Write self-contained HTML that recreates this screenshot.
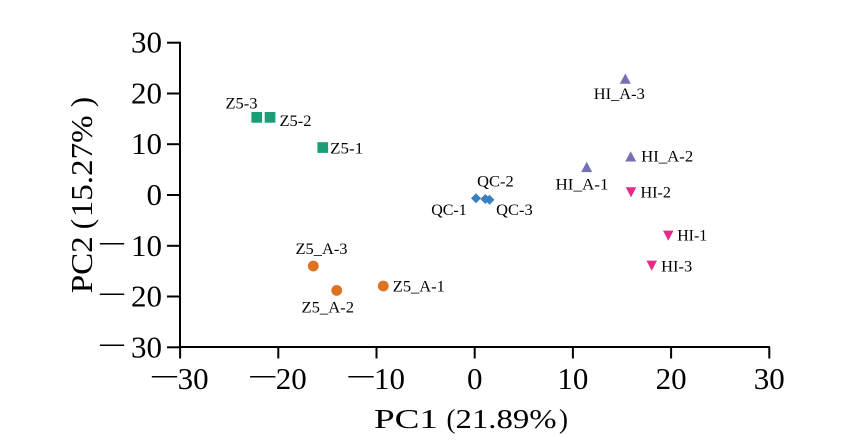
<!DOCTYPE html>
<html>
<head>
<meta charset="utf-8">
<style>
  html, body { margin: 0; padding: 0; background: #ffffff; }
  svg { display: block; }
  text { font-family: "Liberation Serif", "Noto Serif CJK SC", serif; fill: #000; }
</style>
</head>
<body>
<svg width="847" height="448" viewBox="0 0 847 448" xmlns="http://www.w3.org/2000/svg">
  <rect x="0" y="0" width="847" height="448" fill="#ffffff"/>

  <!-- Axes -->
  <g stroke="#000" stroke-width="2" fill="none">
    <line x1="180" y1="41.7" x2="180" y2="348"/>
    <line x1="179" y1="347" x2="770" y2="347"/>
    <!-- y ticks -->
    <line x1="167" y1="42.7" x2="180" y2="42.7"/>
    <line x1="167" y1="93.5" x2="180" y2="93.5"/>
    <line x1="167" y1="144.2" x2="180" y2="144.2"/>
    <line x1="167" y1="195" x2="180" y2="195"/>
    <line x1="167" y1="245.8" x2="180" y2="245.8"/>
    <line x1="167" y1="296.5" x2="180" y2="296.5"/>
    <line x1="167" y1="347.3" x2="180" y2="347.3"/>
    <!-- x ticks -->
    <line x1="180.1" y1="347" x2="180.1" y2="358.5"/>
    <line x1="278.3" y1="347" x2="278.3" y2="358.5"/>
    <line x1="376.5" y1="347" x2="376.5" y2="358.5"/>
    <line x1="474.7" y1="347" x2="474.7" y2="358.5"/>
    <line x1="572.9" y1="347" x2="572.9" y2="358.5"/>
    <line x1="671.1" y1="347" x2="671.1" y2="358.5"/>
    <line x1="769.3" y1="347" x2="769.3" y2="358.5"/>
  </g>

  <!-- Y tick labels -->
  <g font-size="31">
    <text x="162" y="52.7" text-anchor="end">30</text>
    <text x="162" y="103.5" text-anchor="end">20</text>
    <text x="162" y="154.2" text-anchor="end">10</text>
    <text x="162" y="205" text-anchor="end">0</text>
    <text x="162" y="255.8" text-anchor="end">10</text>
    <text x="100" y="250.8" textLength="24" lengthAdjust="spacingAndGlyphs">—</text>
    <text x="162" y="306.5" text-anchor="end">20</text>
    <text x="100" y="301.5" textLength="24" lengthAdjust="spacingAndGlyphs">—</text>
    <text x="162" y="357.3" text-anchor="end">30</text>
    <text x="100" y="352.3" textLength="24" lengthAdjust="spacingAndGlyphs">—</text>
  </g>

  <!-- X tick labels -->
  <g font-size="31">
    <text x="152" y="384" textLength="25" lengthAdjust="spacingAndGlyphs">—</text>
    <text x="177.6" y="389">30</text>
    <text x="250.3" y="384" textLength="25" lengthAdjust="spacingAndGlyphs">—</text>
    <text x="275.8" y="389">20</text>
    <text x="348.5" y="384" textLength="25" lengthAdjust="spacingAndGlyphs">—</text>
    <text x="374" y="389">10</text>
    <text x="474.7" y="389" text-anchor="middle">0</text>
    <text x="572.9" y="389" text-anchor="middle">10</text>
    <text x="671.1" y="389" text-anchor="middle">20</text>
    <text x="769.3" y="389" text-anchor="middle">30</text>
  </g>

  <!-- X axis title -->
  <g font-size="27">
    <text x="374" y="428" textLength="64" lengthAdjust="spacingAndGlyphs">PC1</text>
    <text x="446.5" y="428">(</text>
    <text x="455.5" y="428" textLength="101" lengthAdjust="spacingAndGlyphs">21.89%</text>
    <text x="559" y="428">)</text>
  </g>

  <!-- Y axis title (rotated) -->
  <g font-size="31" transform="translate(92,293.3) rotate(-90)">
    <text x="0" y="0" textLength="57" lengthAdjust="spacingAndGlyphs">PC2</text>
    <text x="64" y="0">(</text>
    <text x="76" y="0" textLength="102" lengthAdjust="spacingAndGlyphs">15.27%</text>
    <text x="186" y="0">)</text>
  </g>

  <!-- Markers: Z5 squares (green) -->
  <g fill="#1b9e77">
    <rect x="251.4" y="112" width="10.7" height="10.7"/>
    <rect x="264.7" y="112" width="10.7" height="10.7"/>
    <rect x="317.4" y="142.2" width="10.7" height="10.7"/>
  </g>

  <!-- Z5_A circles (orange) -->
  <g fill="#d95f02" fill-opacity="0.88">
    <circle cx="313.3" cy="266" r="5.4"/>
    <circle cx="336.7" cy="290.4" r="5.4"/>
    <circle cx="383.3" cy="286" r="5.4"/>
  </g>

  <!-- QC diamonds (blue) -->
  <g fill="#3a80be">
    <polygon points="476,193.3 481,198.3 476,203.3 471,198.3"/>
    <polygon points="485.3,194 490.3,199 485.3,204 480.3,199"/>
    <polygon points="489.5,194.7 494.5,199.7 489.5,204.7 484.5,199.7"/>
  </g>

  <!-- HI_A triangles (purple) -->
  <g fill="#7570b3">
    <polygon points="625.3,73.5 630.8,83.8 619.8,83.8"/>
    <polygon points="630.7,151.2 636.2,161.5 625.2,161.5"/>
    <polygon points="586.7,161.8 592.2,172.1 581.2,172.1"/>
  </g>

  <!-- HI inverted triangles (magenta) -->
  <g fill="#e7298a">
    <polygon points="625.8,187.2 636.3,187.2 631,197.4"/>
    <polygon points="663,230.6 673.5,230.6 668.3,240.8"/>
    <polygon points="646.5,260.6 657,260.6 651.7,270.8"/>
  </g>

  <!-- Point labels -->
  <g font-size="16">
    <text x="225.5" y="108.3" textLength="32" lengthAdjust="spacingAndGlyphs">Z5-3</text>
    <text x="279.5" y="126" textLength="32" lengthAdjust="spacingAndGlyphs">Z5-2</text>
    <text x="330.2" y="153.3" textLength="33" lengthAdjust="spacingAndGlyphs">Z5-1</text>
    <text x="295.5" y="254" textLength="52" lengthAdjust="spacingAndGlyphs">Z5_A-3</text>
    <text x="301.5" y="312.7" textLength="52.5" lengthAdjust="spacingAndGlyphs">Z5_A-2</text>
    <text x="392.8" y="291.3" textLength="52" lengthAdjust="spacingAndGlyphs">Z5_A-1</text>
    <text x="431.2" y="215" textLength="35.5" lengthAdjust="spacingAndGlyphs">QC-1</text>
    <text x="477.2" y="186.7" textLength="36.5" lengthAdjust="spacingAndGlyphs">QC-2</text>
    <text x="496.2" y="215" textLength="36.5" lengthAdjust="spacingAndGlyphs">QC-3</text>
    <text x="593.8" y="99" textLength="51" lengthAdjust="spacingAndGlyphs">HI_A-3</text>
    <text x="641.2" y="161.7" textLength="52" lengthAdjust="spacingAndGlyphs">HI_A-2</text>
    <text x="555.5" y="189.3" textLength="53" lengthAdjust="spacingAndGlyphs">HI_A-1</text>
    <text x="640.5" y="197.7" textLength="30.5" lengthAdjust="spacingAndGlyphs">HI-2</text>
    <text x="677.2" y="240.7" textLength="30" lengthAdjust="spacingAndGlyphs">HI-1</text>
    <text x="661.2" y="271.7" textLength="31" lengthAdjust="spacingAndGlyphs">HI-3</text>
  </g>
</svg>
</body>
</html>
